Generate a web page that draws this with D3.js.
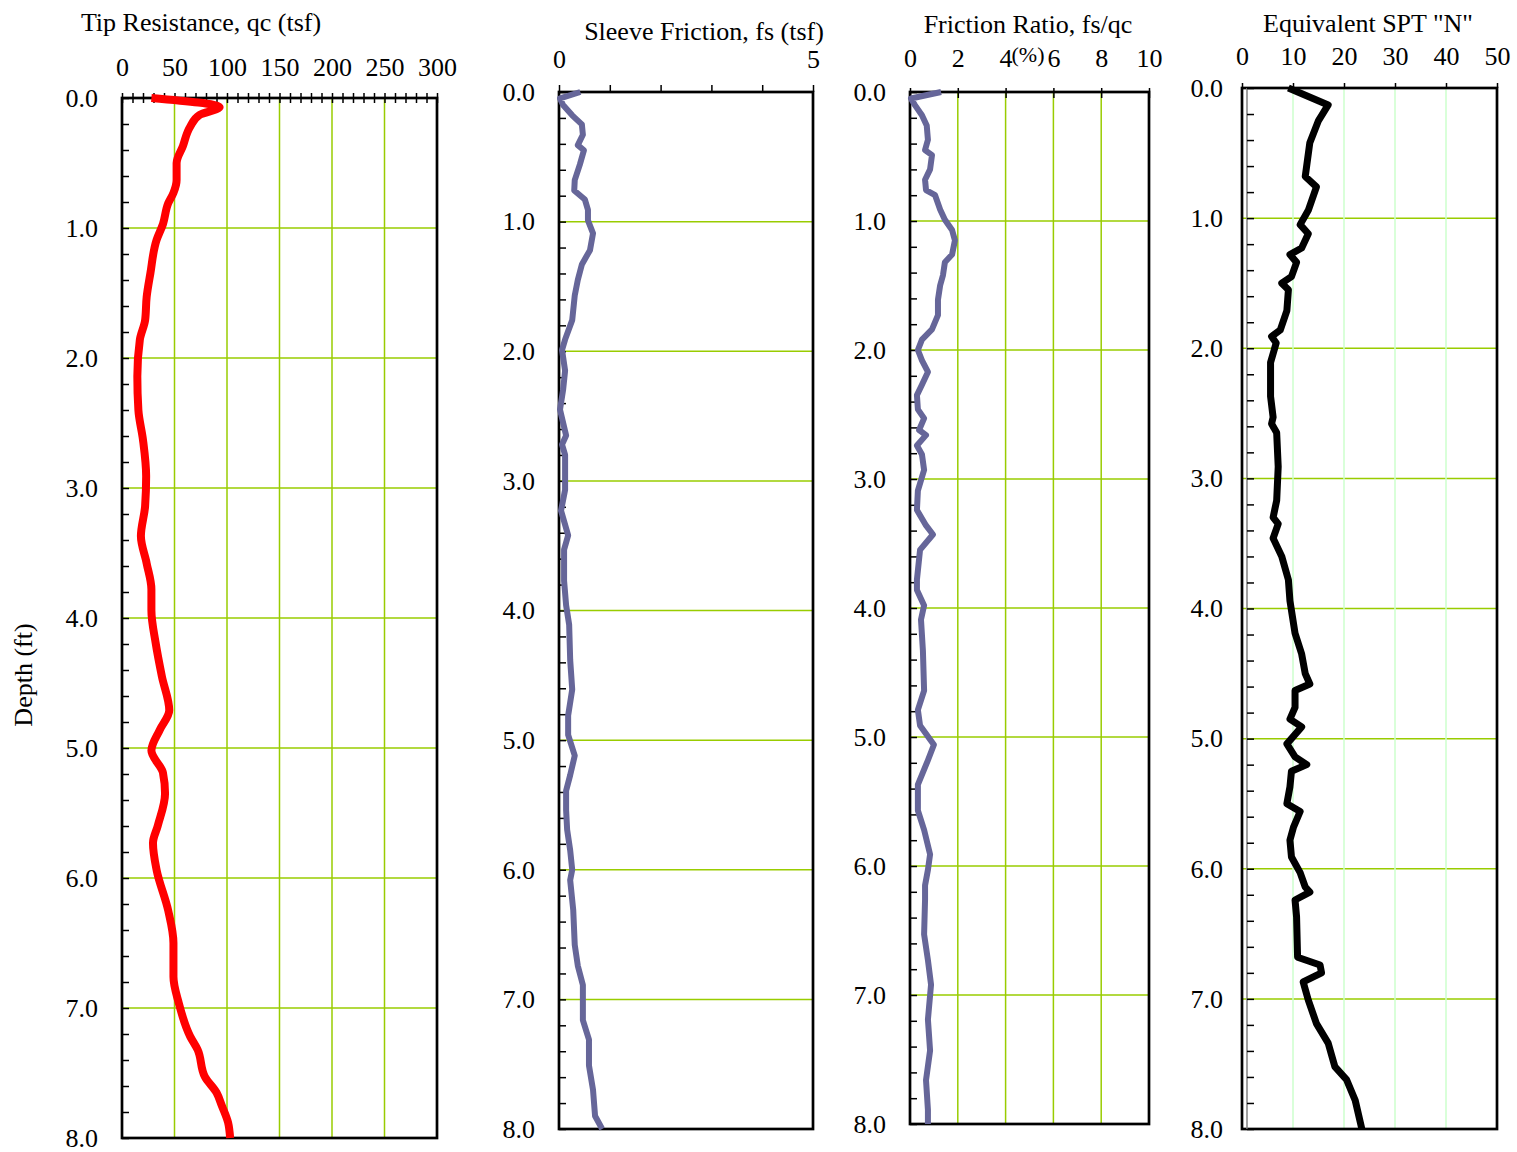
<!DOCTYPE html>
<html>
<head>
<meta charset="utf-8">
<script src="https://cdn.jsdelivr.net/npm/d3@7"></script>
<style>
  body { margin: 0; background: #fff; }
  svg { display: block; }
  text { font-family: "Liberation Serif", "Times New Roman", serif; fill: #000; }
</style>
</head>
<body>
<div class="cptChart"></div>
<script>

// [depth (ft), value]
let tipResistance = [
  [0, 28], [0.07, 93], [0.13, 74], [0.22, 65], [0.37, 58], [0.5, 52], [0.63, 52],
  [0.73, 49], [0.81, 44], [0.97, 39], [1.09, 33], [1.35, 27], [1.53, 23.5], [1.71, 22],
  [1.86, 17], [2.14, 14.6], [2.4, 15.6], [2.63, 20], [2.91, 23], [3.14, 22], [3.37, 18],
  [3.58, 23.5], [3.78, 28], [3.94, 28], [4.19, 32], [4.45, 38], [4.71, 45], [4.86, 36],
  [5.02, 28], [5.19, 39], [5.35, 41], [5.6, 34], [5.73, 29.5], [5.94, 33], [6.25, 44],
  [6.5, 49], [6.76, 49], [6.96, 54], [7.22, 65], [7.32, 72], [7.53, 79], [7.65, 90],
  [7.75, 95], [7.88, 101], [8.0, 103]
];

let sleeveFriction = [
  [0, 0.42], [0.05, 0.02], [0.1, 0.08], [0.18, 0.26], [0.25, 0.45], [0.33, 0.47],
  [0.41, 0.37], [0.45, 0.49], [0.56, 0.41], [0.68, 0.31], [0.76, 0.3], [0.83, 0.51],
  [0.91, 0.57], [0.99, 0.57], [1.09, 0.67], [1.22, 0.61], [1.33, 0.45], [1.45, 0.37],
  [1.57, 0.31], [1.76, 0.26], [1.91, 0.12], [1.99, 0.06], [2.15, 0.12], [2.3, 0.08],
  [2.45, 0.02], [2.65, 0.14], [2.72, 0.06], [2.8, 0.12], [3.07, 0.12], [3.23, 0.04],
  [3.42, 0.18], [3.53, 0.1], [3.77, 0.1], [3.96, 0.14], [4.11, 0.2], [4.38, 0.22],
  [4.61, 0.26], [4.81, 0.18], [4.96, 0.18], [5.12, 0.31], [5.27, 0.22], [5.39, 0.14],
  [5.54, 0.14], [5.69, 0.16], [5.85, 0.22], [6.0, 0.26], [6.08, 0.22], [6.31, 0.28],
  [6.58, 0.31], [6.74, 0.37], [6.89, 0.47], [7.16, 0.47], [7.31, 0.59], [7.51, 0.59],
  [7.7, 0.67], [7.9, 0.71], [8.0, 0.85]
];

let frictionRatio = [
  [0, 1.3], [0.05, 0.04], [0.1, 0.2], [0.18, 0.5], [0.26, 0.7], [0.37, 0.75],
  [0.45, 0.63], [0.49, 0.92], [0.6, 0.84], [0.68, 0.63], [0.76, 0.67], [0.8, 1.05],
  [0.91, 1.26], [0.99, 1.46], [1.07, 1.76], [1.15, 1.88], [1.26, 1.76], [1.32, 1.46],
  [1.42, 1.38], [1.5, 1.26], [1.61, 1.17], [1.73, 1.17], [1.84, 0.92], [1.92, 0.5],
  [2.0, 0.33], [2.08, 0.5], [2.17, 0.75], [2.27, 0.5], [2.35, 0.29], [2.46, 0.33],
  [2.53, 0.59], [2.62, 0.38], [2.66, 0.67], [2.74, 0.29], [2.81, 0.5], [2.93, 0.59],
  [3.09, 0.33], [3.24, 0.29], [3.36, 0.67], [3.43, 0.96], [3.55, 0.42], [3.78, 0.29],
  [3.86, 0.29], [3.98, 0.59], [4.09, 0.46], [4.33, 0.54], [4.64, 0.59], [4.79, 0.33],
  [4.91, 0.42], [5.06, 1.0], [5.18, 0.75], [5.37, 0.33], [5.57, 0.33], [5.72, 0.59],
  [5.91, 0.84], [6.03, 0.75], [6.15, 0.63], [6.26, 0.63], [6.53, 0.59], [6.73, 0.75],
  [6.92, 0.88], [7.19, 0.75], [7.43, 0.84], [7.66, 0.67], [7.89, 0.75], [8.0, 0.75]
];

let sptN = [
  [0, 9.1], [0.13, 16.9], [0.25, 15], [0.42, 13.3], [0.68, 12.4], [0.76, 14.6],
  [0.94, 13], [1.05, 11.4], [1.12, 13], [1.23, 11.7], [1.28, 9.4], [1.34, 10.7],
  [1.45, 9.7], [1.5, 7.8], [1.55, 9.1], [1.71, 8.8], [1.86, 7.5], [1.91, 5.8],
  [1.96, 6.7], [2.11, 5.6], [2.37, 5.6], [2.53, 6.1], [2.58, 5.8], [2.65, 6.8],
  [2.91, 7.1], [3.17, 6.8], [3.3, 6.1], [3.35, 7.1], [3.46, 6.1], [3.6, 7.8],
  [3.78, 9.1], [3.94, 9.4], [4.19, 10.4], [4.35, 11.7], [4.5, 12.4], [4.58, 13.3],
  [4.63, 10.4], [4.76, 10.4], [4.85, 9.4], [4.91, 11.7], [5.04, 8.8], [5.14, 10.4],
  [5.2, 12.7], [5.25, 9.7], [5.37, 9.4], [5.5, 8.8], [5.56, 11.4], [5.68, 10.1],
  [5.78, 9.4], [5.91, 9.7], [6.03, 11.4], [6.14, 12.4], [6.18, 13.3], [6.24, 10.4],
  [6.37, 10.7], [6.68, 10.9], [6.74, 15.3], [6.8, 15.6], [6.87, 12], [7.01, 13],
  [7.19, 14.6], [7.34, 16.9], [7.52, 18.2], [7.62, 20.5], [7.78, 22.2], [8.0, 23.5]
];

// tick values
let depthLabels = [0, 1, 2, 3, 4, 5, 6, 7, 8];
let depthMinor = d3.range(0, 8.01, 0.2);
let depthGrid = [1, 2, 3, 4, 5, 6, 7];

let qcLabels = [0, 50, 100, 150, 200, 250, 300];
let qcMinor = d3.range(0, 301, 10);
let qcGrid = [50, 100, 150, 200, 250];

let fsLabels = [0, 5];
let fsMinor = [0, 1, 2, 3, 4, 5];

let frLabels = [0, 2, 4, 6, 8, 10];
let frGrid = [2, 4, 6, 8];

let nLabels = [0, 10, 20, 30, 40, 50];
let nGrid = [10, 20, 30, 40];


let width = 1517;
let height = 1152;
let gridGreen = '#99cc00';

let svg = d3.select('.cptChart')
  .append('svg')
  .attr('width', width)
  .attr('height', height)
  .attr('viewBox', '0 0 ' + width + ' ' + height);

let panels = [
  {
    left: 122, right: 437, top: 98, bottom: 1138, xMax: 300,
    labels: qcLabels, minor: qcMinor, tickOut: 5, tickIn: 5, labelBase: 76,
    grid: qcGrid, gridColor: gridGreen,
    title: 'Tip Resistance, qc (tsf)', titleX: 201, titleY: 31,
    data: tipResistance, color: '#ff0000', lineWidth: 8, curve: d3.curveMonotoneY
  },
  {
    left: 559, right: 813, top: 92, bottom: 1129, xMax: 5,
    labels: fsLabels, minor: fsMinor, tickOut: 7, tickIn: 0, labelBase: 68,
    grid: [], gridColor: gridGreen,
    title: 'Sleeve Friction, fs (tsf)', titleX: 704, titleY: 40,
    data: sleeveFriction, color: '#666699', lineWidth: 6, curve: d3.curveLinear
  },
  {
    left: 910, right: 1149, top: 92, bottom: 1124, xMax: 10,
    labels: frLabels, minor: frLabels, tickOut: 4, tickIn: 6, labelBase: 67,
    grid: frGrid, gridColor: gridGreen,
    title: 'Friction Ratio, fs/qc', titleX: 1028, titleY: 33,
    data: frictionRatio, color: '#666699', lineWidth: 6, curve: d3.curveLinear
  },
  {
    left: 1242, right: 1497, top: 88, bottom: 1129, xMax: 50,
    labels: nLabels, minor: nLabels, tickOut: 5, tickIn: 0, labelBase: 65,
    grid: nGrid, gridColor: '#ccffcc', doubleLeft: true,
    title: 'Equivalent SPT "N"', titleX: 1368, titleY: 32,
    data: sptN, color: '#000000', lineWidth: 7, curve: d3.curveLinear
  }
];

panels.forEach(function(p) {
  drawPanel(p);
});

// "(%)" unit sits between the 4 and 6 labels of the friction ratio axis
svg.append('text')
  .attr('x', 1028)
  .attr('y', 62)
  .attr('text-anchor', 'middle')
  .style('font-size', '22px')
  .text('(%)');

svg.append('text')
  .attr('transform', 'translate(32, 675) rotate(-90)')
  .attr('text-anchor', 'middle')
  .style('font-size', '26px')
  .text('Depth (ft)');


function drawPanel(p) {
  let xScale = d3.scaleLinear()
    .domain([0, p.xMax])
    .range([p.left, p.right]);

  let yScale = d3.scaleLinear()
    .domain([0, 8])
    .range([p.top, p.bottom]);

  let g = svg.append('g');

  // gridlines
  g.selectAll('.hgrid')
    .data(depthGrid)
    .enter().append('line')
    .attr('x1', p.left)
    .attr('x2', p.right)
    .attr('y1', function(d) { return yScale(d); })
    .attr('y2', function(d) { return yScale(d); })
    .attr('stroke', gridGreen)
    .attr('stroke-width', 1.5);

  g.selectAll('.vgrid')
    .data(p.grid)
    .enter().append('line')
    .attr('x1', function(d) { return xScale(d); })
    .attr('x2', function(d) { return xScale(d); })
    .attr('y1', p.top)
    .attr('y2', p.bottom)
    .attr('stroke', p.gridColor)
    .attr('stroke-width', 1.5);

  // frame
  g.append('rect')
    .attr('x', p.left)
    .attr('y', p.top)
    .attr('width', p.right - p.left)
    .attr('height', p.bottom - p.top)
    .attr('fill', 'none')
    .attr('stroke', '#000')
    .attr('stroke-width', 2.7);

  let innerLeft = p.left;
  if (p.doubleLeft) {
    innerLeft = p.left + 5;
    g.append('line')
      .attr('x1', innerLeft)
      .attr('x2', innerLeft)
      .attr('y1', p.top)
      .attr('y2', p.bottom)
      .attr('stroke', '#808080')
      .attr('stroke-width', 1.5);
  }

  // top axis: ticks
  let topTicks = g.append('g')
    .attr('transform', 'translate(0,' + p.top + ')')
    .call(d3.axisTop(xScale).tickValues(p.minor).tickSize(p.tickOut).tickFormat(''));
  topTicks.select('.domain').remove();
  topTicks.selectAll('.tick line')
    .attr('y1', p.tickIn)
    .attr('stroke', '#000')
    .attr('stroke-width', 1.5);

  // top axis: labels
  let topLabels = g.append('g')
    .attr('transform', 'translate(0,' + p.top + ')')
    .call(d3.axisTop(xScale).tickValues(p.labels).tickSize(0)
      .tickPadding(p.top - p.labelBase).tickFormat(d3.format('d')));
  topLabels.select('.domain').remove();
  topLabels.selectAll('.tick line').remove();
  topLabels.selectAll('text')
    .style('font-size', '26px')
    .style('font-family', '"Liberation Serif", serif')
    .attr('fill', '#000');

  // depth axis: minor ticks inside
  let leftTicks = g.append('g')
    .attr('transform', 'translate(' + innerLeft + ',0)')
    .call(d3.axisLeft(yScale).tickValues(depthMinor).tickSize(-7).tickFormat(''));
  leftTicks.select('.domain').remove();
  leftTicks.selectAll('.tick line')
    .attr('stroke', '#000')
    .attr('stroke-width', 1.5);

  let gap = p.doubleLeft ? 19 : 24;
  let leftLabels = g.append('g')
    .attr('transform', 'translate(' + p.left + ',0)')
    .call(d3.axisLeft(yScale).tickValues(depthLabels).tickSize(0).tickPadding(gap).tickFormat(d3.format('.1f')));
  leftLabels.select('.domain').remove();
  leftLabels.selectAll('.tick line').remove();
  leftLabels.selectAll('text')
    .style('font-size', '26px')
    .style('font-family', '"Liberation Serif", serif')
    .attr('fill', '#000');

  // title
  g.append('text')
    .attr('x', p.titleX)
    .attr('y', p.titleY)
    .attr('text-anchor', 'middle')
    .style('font-size', '26px')
    .text(p.title);

  // profile line
  let line = d3.line()
    .curve(p.curve)
    .x(function(d) { return xScale(d[1]); })
    .y(function(d) { return yScale(d[0]); });

  g.append('path')
    .datum(p.data)
    .attr('d', line)
    .attr('fill', 'none')
    .attr('stroke', p.color)
    .attr('stroke-width', p.lineWidth)
    .attr('stroke-linejoin', 'round');
}

</script>
</body>
</html>
